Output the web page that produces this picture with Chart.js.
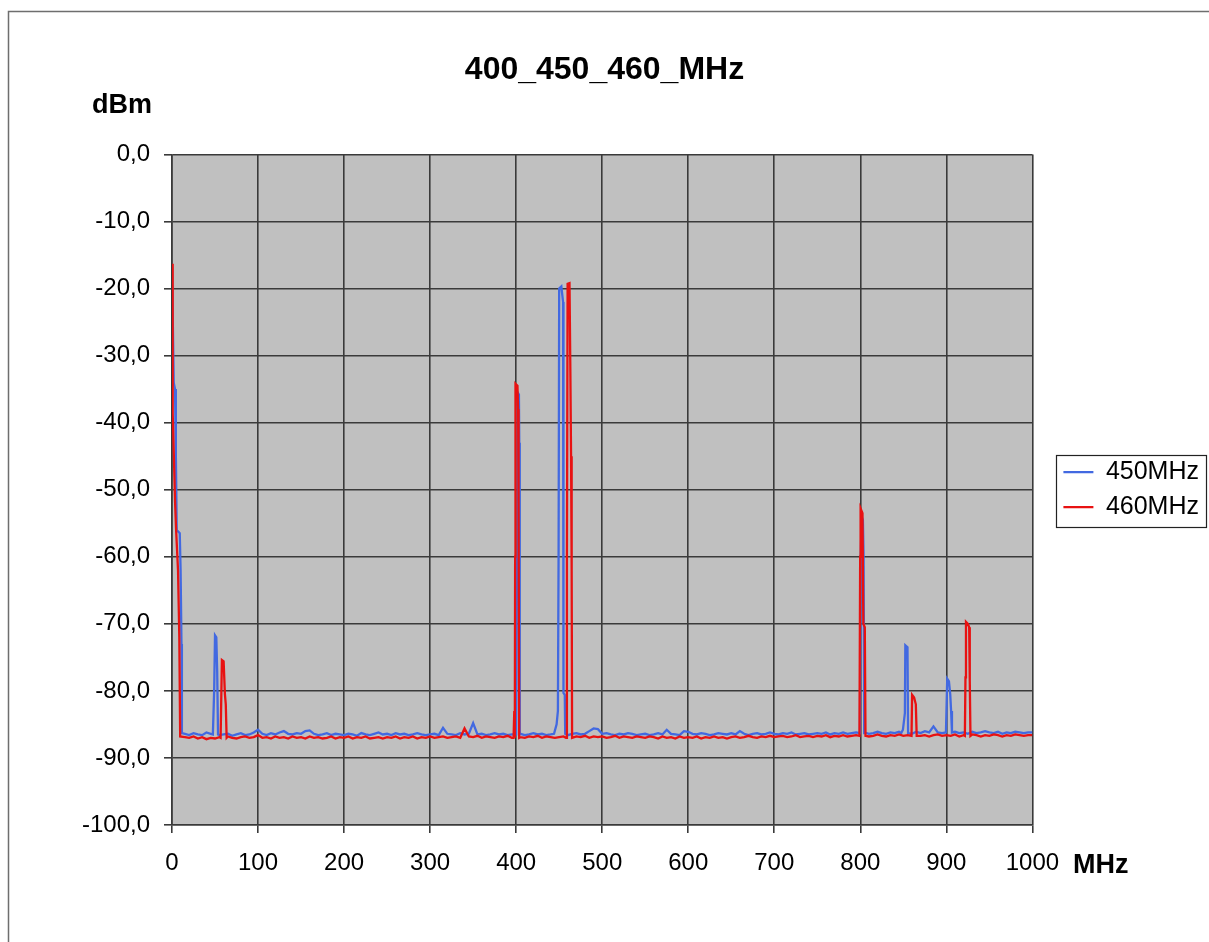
<!DOCTYPE html>
<html>
<head>
<meta charset="utf-8">
<script src="https://cdn.jsdelivr.net/npm/chart.js@4.4.1/dist/chart.umd.min.js"></script>
<style>
    html, body { margin: 0; padding: 0; background: #fff; }
    #wrap { width: 1209px; height: 942px; }
</style>
</head>
<body>
<div id="wrap"><canvas id="spectrum"></canvas></div>
<script>
const FONT = 'Arial, "Liberation Sans", sans-serif';

const seriesNames = ['450MHz', '460MHz'];
const xTicks = [0, 100, 200, 300, 400, 500, 600, 700, 800, 900, 1000];
const yTicks = [0, -10, -20, -30, -40, -50, -60, -70, -80, -90, -100];

// noise floor, one reading every 5 MHz from 0 to 1000 MHz
const floorStep = 5;
const floor450 = [
    -86.5, -86.5, -86.5, -86.4, -86.6, -86.3, -86.5, -86.6, -86.2, -86.4,
    -86.4, -86.6, -86.5, -86.4, -86.7, -86.5, -86.3, -86.6, -86.5, -86.2,
    -85.8, -86.4, -86.6, -86.3, -86.5, -86.2, -86.0, -86.4, -86.5, -86.3,
    -86.4, -86.0, -85.9, -86.4, -86.6, -86.5, -86.3, -86.6, -86.4, -86.5,
    -86.6, -86.4, -86.5, -86.7, -86.3, -86.5, -86.6, -86.4, -86.2, -86.5,
    -86.4, -86.6, -86.3, -86.5, -86.4, -86.6, -86.5, -86.3, -86.5, -86.6,
    -86.5, -86.4, -86.6, -85.5, -86.4, -86.5, -86.6, -86.3, -86.5, -86.4,
    -84.8, -86.5, -86.4, -86.6, -86.5, -86.3, -86.5, -86.4, -86.6, -86.5,
    -86.5, -86.4, -86.6, -86.5, -86.3, -86.5, -86.4, -86.6, -86.5, -86.4,
    -86.5, -86.5, -86.6, -86.4, -86.3, -86.5, -86.4, -86.0, -85.6, -85.7,
    -86.4, -86.3, -86.5, -86.6, -86.4, -86.5, -86.3, -86.4, -86.6, -86.5,
    -86.4, -86.6, -86.5, -86.3, -86.5, -85.8, -86.4, -86.5, -86.6, -86.0,
    -86.1, -86.4, -86.5, -86.3, -86.4, -86.6, -86.5, -86.3, -86.4, -86.5,
    -86.3, -86.5, -86.0, -86.4, -86.6, -86.4, -86.3, -86.5, -86.4, -86.2,
    -86.4, -86.5, -86.3, -86.4, -86.2, -86.5, -86.4, -86.3, -86.5, -86.4,
    -86.3, -86.4, -86.2, -86.5, -86.3, -86.4, -86.2, -86.4, -86.3, -86.2,
    -86.3, -86.2, -86.4, -86.3, -86.1, -86.3, -86.4, -86.2, -86.3, -86.1,
    -86.2, -86.3, -86.4, -86.1, -86.3, -86.0, -86.2, -85.3, -86.2, -86.3,
    -86.2, -86.3, -86.1, -86.3, -86.2, -86.4, -86.1, -86.3, -86.2, -86.0,
    -86.2, -86.3, -86.1, -86.4, -86.2, -86.3, -86.1, -86.2, -86.3, -86.2,
    -86.2
];
const floor460 = [
    -86.8, -86.8, -86.8, -86.9, -87.0, -86.8, -87.1, -86.9, -87.2, -87.0,
    -87.1, -86.9, -87.2, -86.8, -87.0, -87.1, -86.9, -86.8, -87.0, -86.9,
    -86.6, -87.0, -86.9, -87.1, -86.8, -87.0, -86.9, -87.1, -86.8, -87.0,
    -86.9, -87.1, -86.8, -87.0, -86.9, -87.1, -87.0, -86.8, -87.1, -86.9,
    -87.0, -86.8, -87.1, -86.9, -87.0, -86.8, -87.1, -87.0, -86.9, -87.1,
    -86.9, -87.0, -86.8, -87.1, -86.9, -87.0, -86.8, -87.1, -86.9, -87.0,
    -86.8, -87.0, -86.9, -86.8, -87.0, -86.9, -86.8, -87.0, -85.6, -86.8,
    -86.9, -86.7, -87.0, -86.8, -86.9, -87.0, -86.8, -86.9, -86.7, -87.0,
    -86.8, -86.9, -87.0, -86.8, -86.9, -86.7, -87.0, -86.8, -86.9, -87.0,
    -86.9, -86.8, -87.0, -86.7, -86.8, -86.9, -86.7, -87.0, -86.8, -86.9,
    -86.8, -87.0, -86.9, -86.7, -87.0, -86.8, -86.9, -87.0, -86.8, -86.9,
    -87.0, -86.8, -86.9, -87.1, -86.8, -87.0, -86.9, -87.1, -86.8, -87.0,
    -86.9, -87.0, -86.8, -87.1, -86.9, -87.0, -86.8, -87.0, -86.9, -87.1,
    -86.9, -86.8, -87.0, -86.9, -86.7, -86.9, -87.0, -86.8, -86.9, -86.7,
    -86.9, -86.8, -86.7, -86.9, -86.8, -86.6, -86.9, -86.8, -86.7, -86.9,
    -86.7, -86.8, -86.6, -86.9, -86.7, -86.8, -86.6, -86.8, -86.7, -86.6,
    -86.7, -86.6, -86.8, -86.7, -86.5, -86.7, -86.8, -86.6, -86.7, -86.5,
    -86.7, -86.6, -86.8, -86.5, -86.7, -86.6, -86.8, -86.6, -86.5, -86.7,
    -86.6, -86.7, -86.5, -86.8, -86.6, -86.7, -86.5, -86.6, -86.8, -86.6,
    -86.7, -86.5, -86.6, -86.8, -86.6, -86.7, -86.5, -86.6, -86.7, -86.6,
    -86.6
];

// carriers and spurs read at finer resolution (MHz, dBm)
const peaks450 = [
    {f: [0, 2, 3.5, 4.5, 5.5, 9, 10, 11, 11.5], d: [-16.8, -34, -35, -45, -56, -56.5, -62, -73, -86.3]},
    {f: [47.5, 49, 50, 51.5, 52.5, 53.5], d: [-86.5, -80, -71.7, -72, -77, -86.5]},
    {f: [400, 401, 401.8, 403.2, 403.6, 404.2], d: [-86.5, -60, -35.5, -35.8, -43, -86.5]},
    {f: [444, 447, 448.5, 449.3, 450, 452.5, 454.5, 455, 456.5, 457], d: [-86.4, -85, -83, -60, -20, -19.7, -22, -80.3, -80.6, -86.4]},
    {f: [799.5, 800.5, 801.5, 803, 803.8, 804.5], d: [-86.3, -60, -54, -54.5, -60, -86.3]},
    {f: [847.5, 849.5, 851.8, 852.3, 854.8, 855.5], d: [-86.3, -85.8, -83.3, -73.2, -73.5, -86.3]},
    {f: [899.5, 901, 903, 904.5, 905.5, 906.5], d: [-86.2, -78.2, -78.6, -80.5, -83, -86.2]}
];
const peaks460 = [
    {f: [0, 0.8, 2.3, 3.5, 4.7, 7, 8.5, 9.5], d: [-16.3, -38.6, -45.6, -51.6, -55.8, -62, -72, -86.8]},
    {f: [56.5, 58, 60, 61.5, 62.5, 63.5], d: [-87, -75.4, -75.6, -80.5, -82, -87]},
    {f: [397, 397.8, 398.4, 398.8, 399.2, 401.5, 402.3, 402.8, 403.5], d: [-87, -83, -87, -60, -34.2, -34.5, -38, -52, -87]},
    {f: [458, 459, 459.8, 462, 463, 463.8, 464.5, 465], d: [-87, -60, -19.3, -19.2, -32.5, -45, -62, -87]},
    {f: [799, 799.8, 800.3, 802.5, 803.5, 805.2, 806], d: [-86.7, -60, -52.8, -53.5, -70, -70.5, -86.7]},
    {f: [859.5, 860.2, 862.5, 864.5, 865.5], d: [-86.7, -80.6, -81, -82, -86.7]},
    {f: [921.5, 922.2, 922.8, 925, 926.5, 927.2, 928], d: [-86.7, -78, -69.7, -70, -70.5, -78.5, -86.7]}
];

function buildSeries(floor, peaks) {
    var pts = [];
    floor.forEach(function(v, i) {
        var f = i * floorStep;
        var covered = peaks.some(function(p) {
            return f >= p.f[0] && f <= p.f[p.f.length - 1];
        });
        if (!covered) pts.push({x: f, y: v});
    });
    peaks.forEach(function(p) {
        p.f.forEach(function(f, i) { pts.push({x: f, y: p.d[i]}); });
    });
    pts.sort(function(a, b) { return a.x - b.x; });
    return pts;
}

const BLUE = 'rgb(66, 105, 225)';
const RED = 'rgb(232, 18, 18)';
const GRID = '#3a3a3a';

const decor = {
    id: 'decor',
    beforeDraw(chart) {
        const ctx = chart.ctx;
        const a = chart.chartArea;
        ctx.save();
        ctx.fillStyle = '#ffffff';
        ctx.fillRect(0, 0, chart.width, chart.height);
        ctx.strokeStyle = '#6e6e6e';
        ctx.lineWidth = 1.5;
        ctx.strokeRect(8.5, 11.5, chart.width + 20, chart.height + 20);
        ctx.fillStyle = '#c0c0c0';
        ctx.fillRect(a.left, a.top, a.right - a.left, a.bottom - a.top);
        ctx.restore();
    },
    afterDraw(chart) {
        const ctx = chart.ctx;
        ctx.save();
        ctx.fillStyle = '#000';
        ctx.font = 'bold 27px ' + FONT;
        ctx.textAlign = 'left';
        ctx.textBaseline = 'middle';
        ctx.fillText('dBm', 92, 106);
        ctx.fillText('MHz', 1073, 866);

        // frame round the legend
        const hb = chart.legend.legendHitBoxes;
        if (hb && hb.length) {
            const first = hb[0], last = hb[hb.length - 1];
            let right = 0;
            hb.forEach(function(h) { right = Math.max(right, h.left + h.width); });
            const x0 = first.left - 7, y0 = first.top - 5;
            const x1 = right + 7, y1 = last.top + last.height + 7;
            ctx.strokeStyle = '#222';
            ctx.lineWidth = 1.2;
            ctx.strokeRect(Math.round(x0) + 0.5, Math.round(y0) + 0.5, Math.round(x1 - x0), Math.round(y1 - y0));
        }
        ctx.restore();
    }
};

const spectrumConfig = {
    type: 'line',
    data: {
        datasets: [{
            label: seriesNames[0],
            data: buildSeries(floor450, peaks450),
            borderColor: BLUE,
            backgroundColor: BLUE,
            borderWidth: 2.3,
            pointRadius: 0,
            tension: 0,
            order: 2
        }, {
            label: seriesNames[1],
            data: buildSeries(floor460, peaks460),
            borderColor: RED,
            backgroundColor: RED,
            borderWidth: 2.3,
            pointRadius: 0,
            tension: 0,
            order: 1
        }]
    },
    options: {
        responsive: false,
        animation: false,
        devicePixelRatio: 1,
        layout: {
            padding: {left: 0, right: 0, top: 0, bottom: 57}
        },
        plugins: {
            tooltip: {enabled: false},
            title: {
                display: true,
                text: '400_450_460_MHz',
                color: '#000',
                font: {family: FONT, size: 32, weight: 'bold', lineHeight: 1.2},
                padding: {top: 51, bottom: 65}
            },
            legend: {
                position: 'right',
                fullSize: false,
                labels: {
                    color: '#000',
                    font: {family: FONT, size: 25},
                    boxWidth: 30,
                    boxHeight: 0,
                    padding: 10,
                    sort: function(a, b) { return a.datasetIndex - b.datasetIndex; }
                }
            }
        },
        scales: {
            x: {
                type: 'linear',
                min: 0,
                max: 1000,
                afterBuildTicks: function(scale) {
                    scale.ticks = xTicks.map(function(v) { return {value: v}; });
                },
                afterFit: function(scale) { scale.height = 60; },
                grid: {color: GRID, lineWidth: 1.6, tickLength: 8, tickColor: GRID},
                border: {color: GRID, width: 1.6},
                ticks: {
                    color: '#000',
                    font: {family: FONT, size: 24},
                    padding: 16,
                    maxRotation: 0,
                    callback: function(v) { return String(v); }
                }
            },
            y: {
                type: 'linear',
                min: -100,
                max: 0,
                afterBuildTicks: function(scale) {
                    scale.ticks = yTicks.map(function(v) { return {value: v}; });
                },
                afterFit: function(scale) { scale.width = 172; },
                grid: {color: GRID, lineWidth: 1.6, tickLength: 8, tickColor: GRID},
                border: {color: GRID, width: 1.6},
                ticks: {
                    color: '#000',
                    font: {family: FONT, size: 24},
                    padding: 14,
                    callback: function(v) { return v.toFixed(1).replace('.', ','); }
                }
            },
            gap: {
                type: 'linear',
                position: 'right',
                display: true,
                afterFit: function(scale) { scale.width = 21; },
                grid: {display: false, drawTicks: false},
                border: {display: false},
                ticks: {display: false}
            }
        }
    },
    plugins: [decor]
};

const canvas = document.getElementById('spectrum');
canvas.width = 1209;
canvas.height = 942;
const spectrumChart = new Chart(canvas.getContext('2d'), spectrumConfig);
</script>
</body>
</html>
